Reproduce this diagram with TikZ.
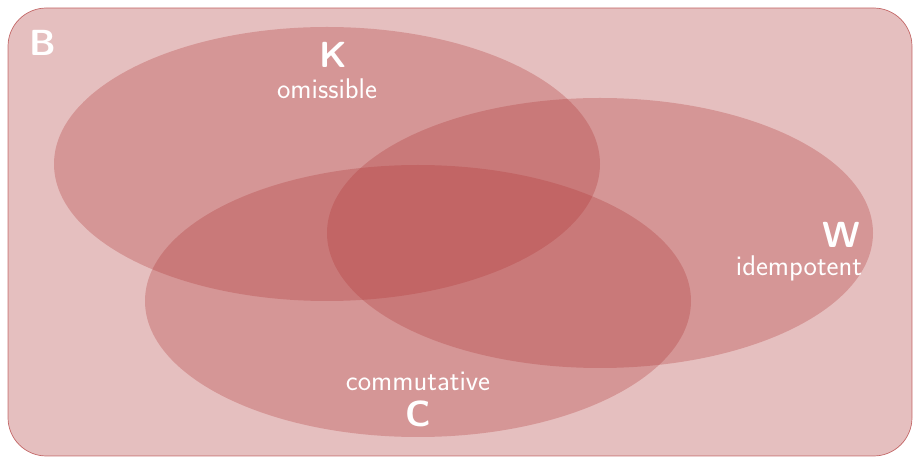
\documentclass[tikz,border=0pt]{standalone}
\begin{document}
\begin{tikzpicture}[x=0.03cm,y=-0.03cm,
  setbox/.style={fill=setred, fill opacity=0.32, draw=setred, draw opacity=0.7, line width=0.6pt, rounded corners=1.15cm},
  setellipse/.style={fill=setred, fill opacity=0.3, draw=none},
  letter/.style={text=white, font=\sffamily\bfseries\fontsize{31}{34}\selectfont, inner sep=0pt},
  caption/.style={text=white, font=\sffamily\fontsize{24.3}{28}\selectfont, inner sep=0pt}]
\definecolor{setred}{RGB}{175,55,55}
\useasboundingbox (0,0) rectangle (917,459);
% universe B
\draw[setbox] (8,8) rectangle (912,456);
% the three sets
\fill[setellipse] (327,164) ellipse [x radius=273, y radius=137];
\fill[setellipse] (600,233) ellipse [x radius=273, y radius=135];
\fill[setellipse] (418,301) ellipse [x radius=273, y radius=136];
% labels
\node[letter] (B) at (43,43) {B};
\node[letter] (K) at (333,55) {K};
\node[caption] (omis) at (327,89) {omissible};
\node[letter] (W) at (841,235) {W};
\node[caption] (idem) at (799,268) {idempotent};
\node[caption] (comm) at (418,381) {commutative};
\node[letter] (C) at (418,414) {C};
\end{tikzpicture}
\end{document}
